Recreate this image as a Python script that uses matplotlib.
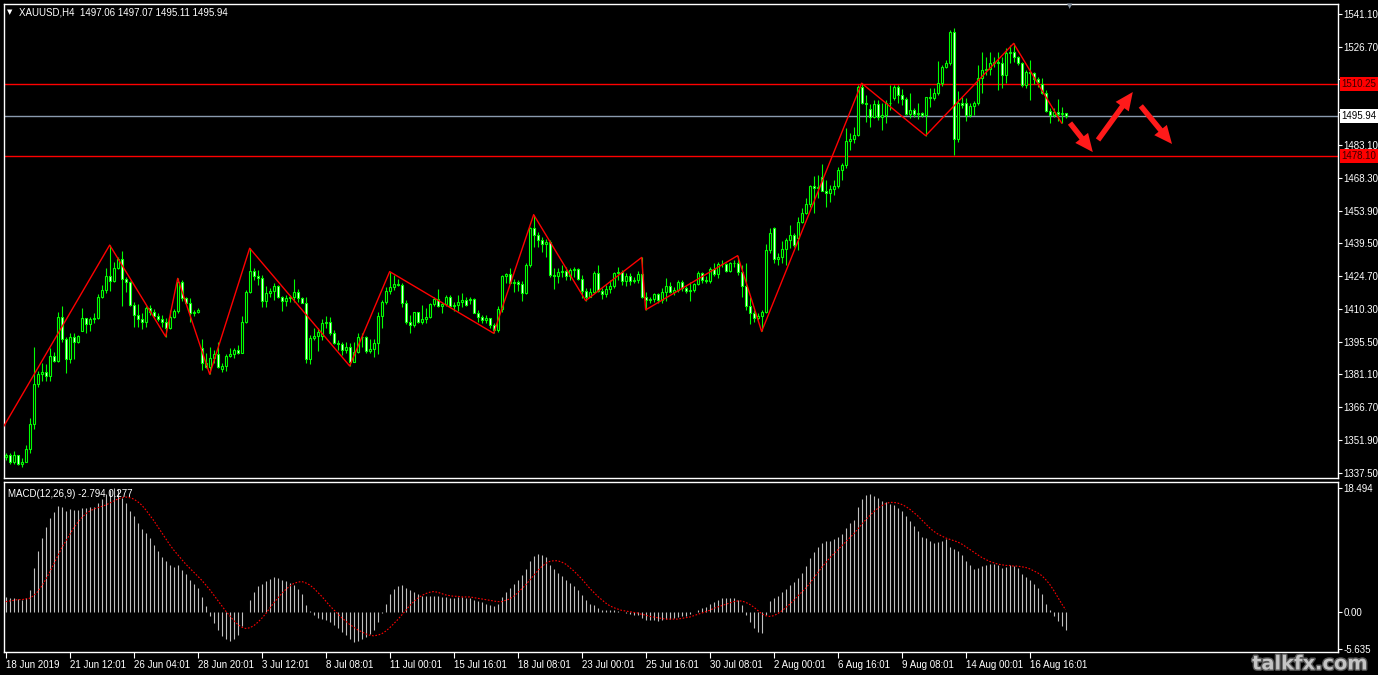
import matplotlib
matplotlib.use('Agg')
import matplotlib.pyplot as plt
import matplotlib.patheffects as pe
from matplotlib.transforms import blended_transform_factory

plt.rcParams['font.family'] = ['Liberation Sans', 'DejaVu Sans']

# ---------------- data (XAUUSD H4) ----------------
opens = [1344.4,1345.4,1342.0,1345.1,1341.3,1342.4,1347.9,1359.0,1376.8,1381.4,
1382.4,1380.2,1389.4,1387.3,1406.5,1396.8,1387.9,1397.6,1395.4,1400.6,
1406.1,1403.4,1405.6,1406.4,1415.4,1418.7,1425.0,1422.7,1428.3,1432.3,
1423.4,1422.4,1412.0,1407.3,1405.6,1404.2,1410.5,1409.0,1407.1,1405.9,
1404.5,1401.9,1406.5,1409.3,1422.4,1415.0,1413.0,1408.6,1409.0,1392.8,
1386.4,1384.6,1388.3,1390.2,1383.4,1384.9,1389.4,1390.2,1392.0,1390.8,
1404.6,1417.9,1427.2,1425.0,1424.1,1413.9,1417.2,1418.3,1420.6,1415.7,
1413.9,1414.9,1415.4,1417.6,1415.2,1413.0,1387.9,1397.2,1398.4,1398.0,
1403.8,1404.6,1399.7,1395.3,1394.7,1392.0,1393.2,1386.8,1391.0,1397.6,
1397.9,1391.7,1392.3,1395.0,1407.1,1413.5,1418.3,1419.8,1421.3,1420.9,
1413.0,1404.6,1403.1,1408.7,1404.6,1405.6,1406.8,1412.3,1414.5,1411.5,
1412.4,1415.7,1411.5,1412.1,1413.5,1414.2,1414.0,1414.5,1408.6,1406.5,
1405.3,1406.1,1403.1,1400.9,1410.1,1424.9,1425.7,1421.9,1422.2,1421.3,
1417.2,1429.7,1446.0,1443.1,1440.8,1439.1,1439.8,1425.3,1424.9,1426.8,
1427.2,1424.9,1427.5,1427.8,1423.4,1418.3,1415.7,1417.6,1426.3,1418.3,
1416.9,1418.9,1420.4,1426.0,1426.5,1422.8,1424.9,1422.8,1423.1,1425.7,
1415.4,1414.2,1414.5,1416.9,1414.2,1417.9,1420.4,1417.9,1418.6,1422.3,
1419.4,1418.3,1418.6,1421.3,1426.0,1423.1,1422.8,1427.8,1425.7,1430.2,
1430.0,1427.2,1430.5,1430.8,1426.8,1420.2,1411.6,1408.6,1406.4,1407.1,
1408.8,1436.5,1446.1,1432.3,1433.2,1436.8,1440.9,1443.1,1441.6,1449.0,
1452.7,1456.9,1464.9,1463.8,1468.7,1462.8,1461.6,1463.5,1464.9,1472.0,
1474.2,1485.0,1485.6,1487.5,1509.0,1501.9,1499.0,1495.6,1501.3,1495.4,
1496.4,1501.9,1503.8,1508.7,1505.2,1503.3,1496.8,1498.6,1496.8,1497.1,
1496.4,1504.2,1503.8,1506.3,1510.7,1517.6,1519.3,1533.4,1485.6,1501.6,
1501.9,1496.4,1500.4,1501.6,1512.7,1516.4,1516.7,1519.3,1520.1,1519.6,
1514.2,1523.8,1524.2,1522.3,1519.3,1509.7,1515.6,1515.2,1512.2,1510.2,
1506.3,1498.3,1496.4,1497.9,1496.8,1497.06]

highs = [1346.1,1346.4,1346.9,1345.4,1344.2,1349.8,1361.7,1393.5,1382.8,1386.1,
1385.8,1392.8,1391.3,1409.0,1411.3,1397.9,1399.4,1399.4,1398.5,1410.5,
1406.4,1406.5,1408.3,1416.9,1420.9,1428.6,1438.6,1431.2,1433.2,1436.0,
1424.6,1422.8,1413.5,1412.4,1408.3,1411.6,1412.0,1410.2,1408.3,1407.6,
1406.1,1409.8,1410.1,1423.8,1423.0,1415.7,1415.0,1409.8,1410.5,1396.9,
1390.5,1393.5,1392.0,1395.4,1386.1,1390.2,1392.8,1392.8,1394.2,1407.1,
1418.7,1437.2,1428.3,1427.5,1425.3,1420.4,1419.4,1421.6,1420.9,1416.0,
1416.4,1416.4,1423.4,1418.9,1415.7,1415.4,1398.7,1401.6,1401.6,1405.6,
1407.1,1406.8,1400.9,1396.4,1395.7,1395.7,1394.9,1395.7,1399.7,1399.7,
1398.3,1396.7,1396.7,1409.0,1414.2,1419.8,1426.8,1425.3,1423.4,1421.9,
1414.2,1407.5,1409.0,1409.0,1412.0,1410.5,1413.0,1415.7,1418.9,1413.5,
1416.4,1416.4,1413.5,1416.4,1417.5,1415.4,1415.7,1414.9,1409.8,1407.5,
1407.5,1406.3,1403.8,1411.5,1425.3,1426.3,1428.3,1423.4,1423.1,1422.6,
1430.5,1446.8,1452.1,1444.5,1442.0,1441.1,1440.8,1428.3,1428.3,1429.7,
1429.0,1428.3,1429.0,1428.3,1425.3,1419.4,1419.4,1427.2,1429.7,1419.4,
1420.9,1423.1,1426.8,1429.0,1427.5,1426.0,1426.0,1424.3,1427.2,1433.1,
1417.9,1415.7,1417.5,1417.2,1419.4,1423.8,1422.3,1419.8,1423.1,1423.1,
1420.4,1422.3,1421.9,1427.2,1426.8,1424.9,1429.0,1430.8,1431.2,1432.0,
1430.5,1431.2,1432.0,1433.9,1429.8,1430.5,1415.7,1409.8,1408.3,1409.8,
1439.1,1446.1,1446.8,1435.0,1440.2,1441.6,1447.6,1443.9,1451.2,1455.0,
1459.4,1465.3,1469.3,1469.8,1474.6,1467.5,1465.3,1467.5,1473.5,1475.2,
1490.5,1488.3,1491.2,1509.7,1510.5,1505.3,1501.3,1503.1,1503.1,1501.6,
1503.1,1509.7,1509.7,1509.7,1507.8,1504.2,1506.3,1499.4,1501.6,1497.9,
1504.5,1508.2,1508.2,1520.5,1518.6,1520.8,1534.1,1534.9,1507.2,1504.5,
1503.8,1501.6,1502.7,1518.6,1524.5,1522.3,1524.5,1522.3,1524.5,1522.3,
1526.0,1527.5,1528.2,1522.8,1520.1,1516.4,1520.8,1515.6,1513.1,1512.7,
1507.5,1499.4,1499.4,1503.3,1500.1,1497.07]

lows = [1343.2,1341.3,1341.3,1341.0,1340.2,1342.0,1346.4,1356.8,1375.7,1378.0,
1378.4,1378.4,1386.8,1386.8,1395.7,1381.7,1386.4,1387.9,1395.2,1400.2,
1399.7,1400.2,1403.9,1405.6,1415.0,1417.2,1418.2,1422.4,1427.8,1411.3,
1417.9,1411.3,1402.4,1402.4,1401.2,1402.4,1407.6,1406.5,1405.0,1402.4,
1397.9,1401.5,1406.1,1408.3,1413.9,1412.4,1404.6,1407.1,1408.3,1383.1,
1383.9,1381.2,1386.4,1383.9,1382.0,1382.8,1388.8,1388.3,1390.2,1390.5,
1403.9,1417.2,1423.1,1420.9,1411.2,1411.2,1415.7,1414.2,1414.9,1409.5,
1411.5,1413.5,1413.5,1413.5,1412.7,1386.1,1385.8,1396.4,1391.7,1396.4,
1401.6,1398.7,1394.7,1392.0,1389.8,1390.8,1384.9,1386.5,1390.5,1393.5,
1390.5,1390.5,1389.0,1390.2,1401.6,1412.4,1416.9,1418.6,1420.4,1411.0,
1403.5,1399.7,1402.4,1404.1,1403.5,1403.8,1406.1,1411.5,1411.2,1408.6,
1411.5,1410.9,1409.5,1409.5,1411.2,1411.5,1412.4,1408.3,1404.6,1403.8,
1404.1,1401.6,1399.4,1400.1,1409.0,1421.6,1421.6,1417.9,1418.3,1413.9,
1416.9,1429.0,1437.9,1437.9,1435.7,1433.1,1424.6,1418.9,1421.6,1424.6,
1423.1,1423.1,1424.6,1423.1,1414.9,1413.9,1415.4,1417.2,1417.9,1414.5,
1415.7,1417.2,1419.4,1423.1,1420.9,1420.4,1420.9,1421.9,1421.6,1414.9,
1409.8,1412.7,1413.5,1412.7,1412.7,1413.9,1417.5,1416.4,1417.9,1418.3,
1417.2,1413.9,1417.9,1420.9,1421.6,1421.6,1421.9,1424.9,1423.8,1429.0,
1426.8,1426.8,1429.0,1425.3,1415.7,1409.8,1403.6,1404.6,1405.4,1400.2,
1408.3,1435.0,1430.5,1429.8,1430.5,1429.8,1437.2,1437.9,1436.5,1448.3,
1452.4,1455.7,1452.7,1459.4,1462.4,1455.7,1457.9,1460.9,1463.8,1467.5,
1472.7,1480.9,1484.1,1487.1,1501.3,1493.4,1491.2,1494.9,1494.2,1489.7,
1492.7,1498.6,1503.1,1501.6,1500.8,1496.4,1494.9,1495.4,1494.5,1495.4,
1487.2,1499.8,1503.1,1505.3,1509.3,1517.1,1518.6,1478.6,1484.5,1499.4,
1493.9,1495.6,1496.4,1500.8,1506.0,1514.2,1514.2,1517.9,1507.5,1508.2,
1510.5,1519.3,1520.1,1518.6,1509.0,1508.2,1503.1,1510.2,1509.0,1505.7,
1497.9,1493.0,1495.6,1493.9,1492.8,1495.11]

closes = [1345.4,1342.0,1345.1,1341.3,1342.4,1347.9,1359.0,1376.8,1381.4,1382.4,
1380.2,1389.4,1387.3,1406.5,1396.8,1387.9,1397.6,1395.4,1398.2,1406.1,
1403.4,1405.6,1406.4,1415.4,1418.7,1425.0,1422.7,1428.3,1432.3,1423.4,
1422.4,1412.0,1407.3,1405.6,1404.2,1410.5,1409.0,1407.1,1405.9,1404.5,
1401.9,1406.5,1409.3,1422.4,1415.0,1413.0,1408.6,1409.0,1409.8,1386.4,
1384.6,1388.3,1390.2,1384.6,1384.9,1389.4,1390.2,1392.0,1390.8,1404.6,
1417.9,1427.2,1425.0,1424.1,1413.9,1417.2,1418.3,1420.6,1415.7,1413.9,
1414.9,1415.4,1417.6,1415.2,1413.0,1387.9,1397.2,1398.4,1400.0,1403.8,
1404.6,1399.7,1395.3,1394.7,1392.0,1393.2,1386.8,1391.0,1397.6,1397.9,
1391.7,1392.3,1395.0,1407.1,1413.5,1418.3,1419.8,1421.3,1420.9,1413.0,
1404.6,1403.1,1408.7,1404.6,1405.6,1406.8,1412.3,1414.5,1411.5,1412.4,
1415.7,1411.5,1412.1,1413.5,1414.2,1412.0,1414.5,1408.6,1406.5,1405.3,
1406.1,1403.1,1400.9,1410.1,1424.9,1425.7,1421.9,1422.2,1421.3,1417.2,
1429.7,1446.0,1443.1,1440.8,1439.1,1439.8,1425.3,1424.9,1426.8,1427.2,
1424.9,1427.5,1427.8,1423.4,1418.3,1415.7,1417.6,1426.3,1418.3,1416.9,
1418.9,1420.4,1426.0,1426.5,1422.8,1424.9,1422.8,1423.1,1425.7,1415.4,
1414.2,1414.5,1416.9,1414.2,1417.9,1420.4,1417.9,1418.6,1422.3,1419.4,
1418.3,1418.6,1421.3,1426.0,1423.1,1422.8,1427.8,1425.7,1430.2,1430.0,
1427.2,1430.5,1430.8,1426.8,1420.2,1411.6,1408.6,1406.4,1407.1,1408.8,
1436.5,1443.9,1432.3,1433.2,1436.8,1440.9,1443.1,1438.7,1449.0,1452.7,
1456.9,1464.9,1463.8,1464.3,1462.8,1461.6,1463.5,1464.9,1472.0,1474.2,
1485.0,1485.6,1487.5,1509.0,1501.9,1501.3,1495.6,1501.3,1495.4,1496.4,
1501.9,1501.6,1508.7,1505.2,1503.3,1496.8,1498.6,1496.8,1497.1,1496.4,
1504.2,1503.8,1506.3,1510.7,1517.6,1519.3,1533.4,1485.6,1501.6,1500.8,
1496.4,1500.4,1501.6,1512.7,1516.4,1516.7,1519.3,1520.1,1519.6,1514.2,
1523.8,1524.2,1522.3,1519.3,1509.7,1515.6,1515.2,1512.2,1511.2,1506.3,
1498.3,1496.4,1497.9,1496.8,1497.1,1495.94]

# MACD(12,26,9) main line (histogram) and signal line
macd_main = [2.2,2.1,2.0,1.9,1.8,2.1,3.2,6.5,9.0,11.0,
12.6,14.0,14.8,15.8,15.6,15.0,15.3,15.2,15.1,15.4,
15.5,15.6,15.6,16.2,16.8,17.6,18.2,18.4,18.3,17.0,
16.2,15.0,14.2,13.3,12.4,11.8,11.0,10.0,9.0,8.2,
7.5,7.0,6.6,6.9,6.2,5.6,4.8,4.2,3.6,2.2,
0.8,-0.6,-1.7,-2.8,-3.6,-4.1,-4.3,-4.0,-3.5,-2.2,
0.0,1.8,3.0,3.8,4.2,4.6,4.9,5.1,5.0,4.8,
4.6,4.3,4.0,3.4,2.6,1.0,0.1,-0.5,-0.9,-1.1,
-1.3,-1.6,-2.0,-2.5,-3.0,-3.5,-4.1,-4.5,-4.3,-4.0,
-3.7,-3.3,-2.8,-1.6,-0.2,1.2,2.6,3.4,3.9,4.0,
3.6,3.2,3.0,2.6,2.4,2.3,2.3,2.4,2.3,2.2,
2.2,2.1,2.1,2.2,2.2,2.1,2.0,1.8,1.6,1.4,
1.2,1.0,0.8,1.1,2.2,3.0,3.6,4.2,4.8,5.4,
6.3,7.6,8.3,8.6,8.5,8.1,7.0,6.3,5.8,5.3,
4.8,4.3,3.8,3.2,2.5,1.8,1.2,1.0,0.6,0.3,
0.2,0.2,0.3,0.1,-0.1,-0.2,-0.4,-0.5,-0.5,-0.9,
-1.2,-1.3,-1.3,-1.4,-1.3,-1.1,-1.1,-1.0,-0.8,-0.7,
-0.6,-0.4,-0.1,0.3,0.5,0.7,1.1,1.4,1.8,2.0,
2.0,2.1,2.1,1.8,1.0,-0.5,-1.5,-2.4,-3.0,-3.2,
-0.5,1.6,2.0,2.4,2.9,3.4,4.0,4.4,5.0,5.8,
6.8,8.0,8.9,9.6,10.2,10.5,10.6,10.8,11.2,11.6,
12.5,13.2,13.7,15.6,16.8,17.4,17.5,17.3,16.9,16.5,
16.3,16.0,15.9,15.5,15.0,14.2,13.5,12.8,12.0,11.2,
11.0,10.6,10.3,10.4,10.6,10.8,9.6,9.3,9.0,8.4,
7.5,6.9,6.3,6.5,6.8,6.9,7.1,7.1,7.0,6.5,
6.7,6.9,6.8,6.5,5.6,5.2,4.8,4.2,3.5,2.6,
1.2,0.2,-0.6,-1.4,-2.1,-2.794]

macd_signal = [1.5,1.6,1.7,1.8,1.8,1.9,2.0,2.4,3.0,3.8,
4.8,5.9,7.1,8.3,9.5,10.5,11.5,12.5,13.3,14.0,
14.6,15.0,15.3,15.5,15.7,15.9,16.2,16.5,16.8,17.0,
17.1,17.0,16.8,16.4,15.9,15.2,14.4,13.6,12.7,11.8,
10.9,10.0,9.2,8.5,7.8,7.1,6.5,5.9,5.3,4.7,
4.0,3.3,2.5,1.7,0.9,0.1,-0.6,-1.3,-1.9,-2.3,
-2.5,-2.4,-2.1,-1.6,-1.0,-0.3,0.5,1.3,2.0,2.7,
3.3,3.8,4.2,4.4,4.5,4.3,4.0,3.5,2.9,2.3,
1.6,0.9,0.3,-0.3,-0.9,-1.4,-1.9,-2.3,-2.7,-3.0,
-3.3,-3.5,-3.6,-3.5,-3.3,-2.9,-2.4,-1.8,-1.2,-0.5,
0.2,0.9,1.5,2.0,2.4,2.7,2.9,3.0,2.9,2.7,
2.5,2.4,2.3,2.3,2.2,2.2,2.2,2.1,2.0,1.9,
1.8,1.7,1.6,1.5,1.5,1.7,1.9,2.3,2.8,3.4,
4.0,4.7,5.4,6.1,6.7,7.2,7.5,7.6,7.6,7.4,
7.1,6.6,6.1,5.5,4.9,4.2,3.5,2.9,2.3,1.8,
1.3,0.9,0.6,0.4,0.2,0.1,0.0,-0.1,-0.2,-0.4,
-0.5,-0.7,-0.8,-0.9,-1.0,-1.1,-1.1,-1.1,-1.1,-1.0,
-0.9,-0.8,-0.6,-0.4,-0.2,0.0,0.2,0.5,0.7,0.9,
1.1,1.3,1.5,1.6,1.6,1.4,1.1,0.7,0.2,-0.3,
-0.6,-0.7,-0.6,-0.3,0.1,0.6,1.1,1.7,2.3,2.9,
3.5,4.2,5.0,5.8,6.6,7.3,8.0,8.6,9.2,9.8,
10.4,11.0,11.6,12.3,13.0,13.7,14.3,14.9,15.4,15.8,
16.1,16.3,16.3,16.2,16.0,15.7,15.3,14.8,14.3,13.7,
13.1,12.5,12.0,11.6,11.3,11.0,10.8,10.6,10.4,10.1,
9.7,9.3,8.9,8.5,8.1,7.8,7.5,7.3,7.1,7.0,
6.9,6.9,6.8,6.8,6.7,6.6,6.4,6.1,5.8,5.4,
4.8,4.1,3.2,2.2,1.2,0.277]

# ZigZag pivots (bar index, price)
zz_bars = [-1, 26, 40, 43, 51, 61, 86, 96, 122, 132, 145, 159, 160, 183, 189, 214, 230, 252, 264]
zz_prices = [1356.5, 1438.6, 1397.9, 1423.8, 1381.2, 1437.2, 1384.9, 1426.8, 1399.4, 1452.1,
             1413.9, 1433.1, 1409.8, 1433.9, 1400.2, 1510.5, 1487.2, 1528.2, 1492.8]

level_red = [1510.25, 1478.10]
level_bid = 1495.94

price_ticks = [1541.10, 1526.70, 1512.30, 1497.50, 1483.10, 1468.30, 1453.90, 1439.50,
               1424.70, 1410.30, 1395.50, 1381.10, 1366.70, 1351.90, 1337.50]
# labels hidden behind the level price boxes in the reference
hidden_ticks = [1512.30, 1497.50]
macd_ticks = [18.494, 0.0, -5.635]
macd_tick_labels = ['18.494', '0.00', '-5.635']

date_tick_bars = [0, 16, 32, 48, 64, 80, 96, 112, 128, 144, 160, 176, 192, 208, 224, 240, 256]
date_labels = ['18 Jun 2019', '21 Jun 12:01', '26 Jun 04:01', '28 Jun 20:01', '3 Jul 12:01',
               '8 Jul 08:01', '11 Jul 00:01', '15 Jul 16:01', '18 Jul 08:01', '23 Jul 00:01',
               '25 Jul 16:01', '30 Jul 08:01', '2 Aug 00:01', '6 Aug 16:01', '9 Aug 08:01',
               '14 Aug 00:01', '16 Aug 16:01']

# forecast arrows drawn on the chart: (start bar, start price, end bar, end price)
arrow_start_bars = [266.1, 273.1, 283.8]
arrow_start_prices = [1492.8, 1485.3, 1500.4]
arrow_end_bars = [271.8, 281.8, 291.6]
arrow_end_prices = [1479.9, 1506.6, 1483.5]

# ---------------- figure ----------------
W, H = 1378, 675
fig = plt.figure(figsize=(W / 100, H / 100), dpi=100, facecolor='black')

def rect(x0, y0, x1, y1):
    return [x0 / W, 1 - y1 / H, (x1 - x0) / W, (y1 - y0) / H]

ax = fig.add_axes(rect(4, 4, 1338, 478), facecolor='black')
axm = fig.add_axes(rect(4, 482, 1338, 652), facecolor='black')

GREEN = '#00ff00'
FS = 7

idx = list(range(len(closes)))

# candles
ax.vlines(idx, lows, highs, color=GREEN, linewidth=0.8, zorder=2)
for i in idx:
    o, c = opens[i], closes[i]
    bull = c >= o
    lo, hi = min(o, c), max(o, c)
    ax.bar(i, max(hi - lo, 0.05), bottom=lo, width=0.5,
           facecolor=('black' if bull else 'white'), edgecolor=GREEN,
           linewidth=0.8, zorder=3)

# levels
for lv in level_red:
    ax.axhline(lv, color='#ff0000', linewidth=1.0, zorder=1)
ax.axhline(level_bid, color='#8a9aae', linewidth=1.0, zorder=1)

# zigzag
ax.plot(zz_bars, zz_prices, color='#ff0000', linewidth=1.0, zorder=4)

# arrows
for sx, sy, ex, ey in zip(arrow_start_bars, arrow_start_prices, arrow_end_bars, arrow_end_prices):
    ax.annotate('', xy=(ex, ey), xytext=(sx, sy), annotation_clip=False,
                arrowprops=dict(arrowstyle='simple,head_length=1.0,head_width=0.9,tail_width=0.3',
                                color='#ff1a1a', lw=0, shrinkA=0, shrinkB=0, mutation_scale=13),
                zorder=5)

ax.set_xlim(-0.425, 333.1)
ax.set_ylim(1335.1, 1545.7)
ax.set_xticks([])
ax.yaxis.tick_right()
ax.set_yticks(price_ticks)
ax.set_yticklabels(['' if t in hidden_ticks else '%.2f' % t for t in price_ticks])
ax.tick_params(axis='y', colors='white', labelsize=FS, length=3, width=0.8, pad=1)
for s in ax.spines.values():
    s.set_color('white')
    s.set_linewidth(1.0)

# price labels on the right
tr = blended_transform_factory(ax.transAxes, ax.transData)
for lv in level_red:
    ax.text(1.0025, lv, '%.2f' % lv, transform=tr, ha='left', va='center', fontsize=FS,
            color='#3a0000', zorder=10, clip_on=False,
            bbox=dict(boxstyle='square,pad=0.18', facecolor='#ff0000', edgecolor='none'))
ax.text(1.0025, level_bid, '%.2f' % level_bid, transform=tr, ha='left', va='center', fontsize=FS,
        color='black', zorder=10, clip_on=False,
        bbox=dict(boxstyle='square,pad=0.18', facecolor='white', edgecolor='none'))

# title
ax.text(0.002, 0.982, '\u25bc', transform=ax.transAxes, color='white', fontsize=5,
        va='center', ha='left', family=['DejaVu Sans'])
ax.text(0.0115, 0.982, 'XAUUSD,H4  1497.06 1497.07 1495.11 1495.94', transform=ax.transAxes,
        color='white', fontsize=FS, va='center', ha='left')

# MACD panel
axm.vlines(idx, 0, macd_main, color='#c0c0c0', linewidth=0.8, zorder=2)
axm.plot(idx, macd_signal, color='#ff0000', linewidth=0.8, linestyle=(0, (1.5, 1.5)), zorder=3)
axm.set_xlim(-0.425, 333.1)
axm.set_ylim(-6.01, 19.34)
axm.yaxis.tick_right()
axm.set_yticks(macd_ticks)
axm.set_yticklabels(macd_tick_labels)
axm.tick_params(axis='y', colors='white', labelsize=FS, length=3, width=0.8, pad=1)
axm.set_xticks(date_tick_bars)
axm.set_xticklabels(date_labels, ha='left')
axm.tick_params(axis='x', colors='white', labelsize=FS, length=4, width=0.8, pad=2)
for s in axm.spines.values():
    s.set_color('white')
    s.set_linewidth(1.0)
axm.text(0.003, 0.93, 'MACD(12,26,9) -2.794 0.277', transform=axm.transAxes,
         color='white', fontsize=FS, va='center', ha='left', zorder=10)

# shift marker at top
fig.text(1070 / W, 1 - 6 / H, '\u25bc', color='#7d8a99', fontsize=5, ha='center', va='center',
         family=['DejaVu Sans'])

# watermark
fig.text(1310 / W, 1 - 664 / H, 'talkfx.com', color='#c4c4c4', fontsize=14, fontweight='bold',
         ha='center', va='center', family=['DejaVu Sans'],
         path_effects=[pe.withStroke(linewidth=2, foreground='#555555')])

fig.savefig('out.png', dpi=100, facecolor='black')
